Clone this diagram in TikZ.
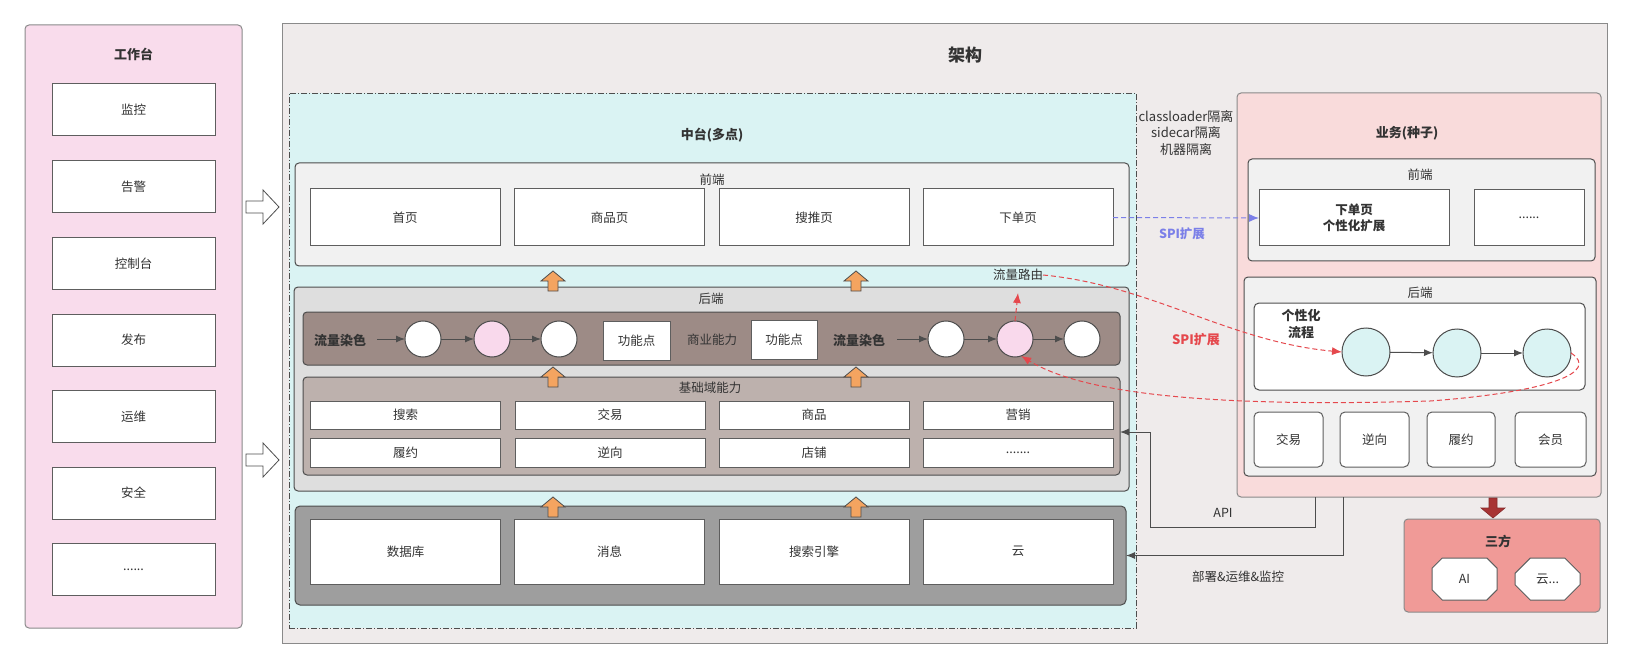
\documentclass[tikz,border=0pt]{standalone}
\usepackage{fontspec}
\setmainfont{Noto Sans CJK SC}
\usetikzlibrary{arrows.meta,shapes.geometric,shapes.misc,calc}
\definecolor{txt}{HTML}{333333}
\definecolor{edgeA}{HTML}{8A8A8A}
\definecolor{edgeB}{HTML}{4D4D4D}
\definecolor{boxedge}{HTML}{5E5E5E}
\definecolor{pinkL}{HTML}{F9DCEC}
\definecolor{archBg}{HTML}{EFEBEB}
\definecolor{cyanBg}{HTML}{DAF3F3}
\definecolor{feBg}{HTML}{F1F1F1}
\definecolor{beBg}{HTML}{DEDEDE}
\definecolor{flowBg}{HTML}{9D8B86}
\definecolor{baseBg}{HTML}{BDB1AD}
\definecolor{infraBg}{HTML}{9E9E9E}
\definecolor{orangeA}{HTML}{F4A460}
\definecolor{bizBg}{HTML}{F9DBDB}
\definecolor{thirdBg}{HTML}{F09A97}
\definecolor{darkRed}{HTML}{A83434}
\definecolor{redA}{HTML}{E5484D}
\definecolor{blueA}{HTML}{7B7FE8}
\definecolor{circPink}{HTML}{F9D9EC}
\newcommand\mysixdots{......}
\newcommand\mysevendots{.......}
\begin{document}
\begin{tikzpicture}[x=1pt,y=-1pt,
  every node/.style={font=\fontsize{12.5}{15}\selectfont, text=txt, inner sep=0pt, outer sep=0pt},
  outerpanel/.style={draw=edgeA, line width=1pt, rounded corners=4pt},
  innerpanel/.style={draw=edgeB, line width=1pt, rounded corners=4pt},
  wbox/.style={draw=boxedge, fill=white, line width=1pt},
  rbox/.style={draw=boxedge, fill=white, line width=1pt, rounded corners=5pt},
  ttl/.style={font=\bfseries\fontsize{13}{16}\selectfont},
  bigttl/.style={font=\bfseries\fontsize{17}{20}\selectfont},
  circw/.style={circle, draw=edgeB, fill=white, line width=1pt, minimum size=36pt},
  circp/.style={circle, draw=edgeB, fill=circPink, line width=1pt, minimum size=36pt},
  circc/.style={circle, draw=edgeB, fill=cyanBg, line width=1pt, minimum size=48pt},
  flowarr/.style={draw=edgeB, line width=1pt, -{Latex[length=9pt,width=7pt]}},
  conn/.style={draw=edgeB, line width=1pt, -{Latex[length=9pt,width=7pt]}},
  reddash/.style={draw=redA, line width=1pt, dash pattern=on 5pt off 3pt, -{Latex[length=10pt,width=8pt]}},
  orangeup/.pic={\draw[fill=orangeA, draw=edgeB, line width=0.8pt] (-5,0) -- (5,0) -- (5,-10) -- (12,-10) -- (0,-20) -- (-12,-10) -- (-5,-10) -- cycle;},
  octa/.style={chamfered rectangle, chamfered rectangle xsep=10pt, chamfered rectangle ysep=10pt, draw=boxedge, fill=white, line width=1pt, minimum width=65pt, minimum height=42pt}
]
\useasboundingbox (0,0) rectangle (1632,668);

% ---------------- left panel
\node[outerpanel, fill=pinkL, minimum width=217pt, minimum height=603pt] (lp) at (133.5,326.5) {};
\node[ttl] (lpt) at (133.5,54) {工作台};
\foreach \nm/\yy/\tx in {w1/110/监控, w2/186.5/告警, w3/263.5/控制台, w4/340/发布, w5/416.5/运维, w6/493/安全, w7/569.5/\mysixdots}{
  \node[wbox, minimum width=163pt, minimum height=52pt] (\nm) at (133.5,\yy) {\tx};
}

% hollow arrows
\foreach \c in {207,460}{
  \draw[fill=white, draw=edgeB, line width=0.8pt] (246,\c-6) -- (263,\c-6) -- (263,\c-17) -- (279,\c) -- (263,\c+17) -- (263,\c+6) -- (246,\c+6) -- cycle;
}

% ---------------- middle architecture panel
\node[draw=edgeA, line width=1pt, fill=archBg, minimum width=1325pt, minimum height=619pt] (mp) at (944.5,333.5) {};
\node[bigttl] (mpt) at (965,55) {架构};

\node[draw=edgeB, line width=0.9pt, fill=cyanBg, dash pattern=on 6pt off 2pt on 1pt off 2pt, minimum width=847pt, minimum height=535pt] (cy) at (712.5,360.5) {};
\node[ttl] (cyt) at (712,135) {中台(多点)};

% front end
\node[innerpanel, fill=feBg, minimum width=834pt, minimum height=103pt] (fe) at (712,214.5) {};
\node (fet) at (712,180) {前端};
\foreach \nm/\xx/\tx in {fe1/405/首页, fe2/609.5/商品页, fe3/814/搜推页, fe4/1018/下单页}{
  \node[wbox, minimum width=190pt, minimum height=57pt] (\nm) at (\xx,217.5) {\tx};
}

% back end
\node[innerpanel, fill=beBg, minimum width=835pt, minimum height=204pt] (be) at (711.5,389) {};
\node (bet) at (711,299) {后端};

\node[innerpanel, fill=flowBg, draw=edgeB, minimum width=817pt, minimum height=53pt] (fl) at (711.5,338.5) {};
\node[ttl] (fl1t) at (340,340) {流量染色};
\node[ttl] (fl2t) at (859,340) {流量染色};
\coordinate (fs1) at (377,339);
\coordinate (fs2) at (897,339);
\node[circw] (c1) at (423,339) {};
\node[circp] (c2) at (492,339) {};
\node[circw] (c3) at (559,339) {};
\node[circw] (c4) at (946,339) {};
\node[circp] (c5) at (1015,339) {};
\node[circw] (c6) at (1082,339) {};
\draw[flowarr] (fs1) -- (c1);
\draw[flowarr] (c1) -- (c2);
\draw[flowarr] (c2) -- (c3);
\draw[flowarr] (fs2) -- (c4);
\draw[flowarr] (c4) -- (c5);
\draw[flowarr] (c5) -- (c6);
\node[wbox, minimum width=67pt, minimum height=39pt] (fp1) at (636.5,340.5) {功能点};
\node (syn) at (712,340) {商业能力};
\node[wbox, minimum width=66pt, minimum height=39pt] (fp2) at (784,340) {功能点};

\node[innerpanel, fill=baseBg, minimum width=817pt, minimum height=98pt] (jc) at (711.5,426) {};
\node (jct) at (710,388) {基础域能力};
\foreach \nm/\xx/\tx in {j1/405.5/搜索, j2/610/交易, j3/814/商品, j4/1018/营销}{
  \node[wbox, minimum width=190pt, minimum height=28pt] (\nm) at (\xx,415) {\tx};
}
\foreach \nm/\xx/\tx in {k1/405.5/履约, k2/610/逆向, k3/814/店铺, k4/1018/\mysevendots}{
  \node[wbox, minimum width=190pt, minimum height=29pt] (\nm) at (\xx,452.5) {\tx};
}

% infrastructure
\node[innerpanel, fill=infraBg, rounded corners=5pt, minimum width=831pt, minimum height=99pt] (inf) at (710.5,555.5) {};
\foreach \nm/\xx/\tx in {d1/405.5/数据库, d2/609.5/消息, d3/814/搜索引擎, d4/1018/云}{
  \node[wbox, minimum width=190pt, minimum height=65pt] (\nm) at (\xx,551.5) {\tx};
}

% orange arrows
\foreach \xx in {553,856}{
  \pic at (\xx,291) {orangeup};
  \pic at (\xx,387) {orangeup};
  \pic at (\xx,517) {orangeup};
}

% isolation text
\node[align=center, font=\fontsize{13}{16.5}\selectfont] (iso) at (1186,133) {classloader隔离\\sidecar隔离\\机器隔离};

% ---------------- business panel
\node[outerpanel, fill=bizBg, minimum width=364pt, minimum height=404pt] (bp) at (1419,295) {};
\node[ttl] (bpt) at (1407,133) {业务(种子)};

\node[innerpanel, fill=feBg, minimum width=347pt, minimum height=102pt] (bfe) at (1421.5,210) {};
\node (bfet) at (1420,175) {前端};
\node[wbox, minimum width=190pt, minimum height=56pt, align=center, font=\bfseries\fontsize{12.5}{16}\selectfont] (bfe1) at (1354,218) {下单页\\个性化扩展};
\node[wbox, minimum width=110pt, minimum height=56pt] (bfe2) at (1529,218) {\mysixdots};

\node[innerpanel, fill=feBg, minimum width=352pt, minimum height=199pt] (bbe) at (1420,376.5) {};
\node (bbet) at (1420,293) {后端};
\node[draw=edgeB, line width=1pt, fill=white, rounded corners=5pt, minimum width=331pt, minimum height=87pt] (bfl) at (1419.5,346.5) {};
\node[align=center, font=\bfseries\fontsize{13}{17}\selectfont] (bflt) at (1301,324) {个性化\\流程};
\node[circc] (b1) at (1366,352) {};
\node[circc] (b2) at (1457,353) {};
\node[circc] (b3) at (1547,353) {};
\draw[flowarr] (b1) -- (b2);
\draw[flowarr] (b2) -- (b3);
\foreach \nm/\xx/\ww/\tx in {bb1/1288.5/69/交易, bb2/1374.5/69/逆向, bb3/1461/68/履约, bb4/1550.5/71/会员}{
  \node[rbox, minimum width=\ww pt, minimum height=55pt] (\nm) at (\xx,439.5) {\tx};
}

% dark red arrow
\draw[fill=darkRed, draw=darkRed!80!black, line width=0.6pt] (1489,498) -- (1497,498) -- (1497,508) -- (1505,508) -- (1493,518) -- (1481,508) -- (1489,508) -- cycle;

% third party
\node[outerpanel, fill=thirdBg, minimum width=196pt, minimum height=93pt] (tp) at (1502,565.5) {};
\node[ttl] (tpt) at (1498,541) {三方};
\node[octa] (ai) at (1464.5,579) {AI};
\node[octa] (yun) at (1547.5,579) {云...};

% ---------------- connectors
\coordinate (apiA) at (1315,497);
\coordinate (apiB) at (1150,527);
\draw[conn] (apiA) |- (apiB) |- ([yshift=-6pt]jc.east);
\node (apit) at (1223,513) {API};
\coordinate (depA) at (1343,497);
\draw[conn] (depA) |- (inf.east);
\node (dept) at (1238,577) {部署\&运维\&监控};

\draw[draw=blueA, line width=1pt, dash pattern=on 5pt off 3pt, -{Latex[length=10pt,width=8pt]}] (fe4.east) -- (bfe1.west);
\node[text=blueA, font=\bfseries\fontsize{12.5}{15}\selectfont] (spib) at (1182,234) {SPI扩展};

\node (lr) at (1018,275) {流量路由};
\coordinate (rtip) at (1018,293);
\draw[reddash] (c5.north) -- (rtip);
\draw[reddash] (lr.east) .. controls (1150,285) and (1230,342) .. (b1.west);
\draw[reddash] (b3.east) .. controls (1600,372) and (1550,392) .. (1430,401) .. controls (1200,408) and (1080,392) .. (c5.-70);
\node[text=redA, font=\bfseries\fontsize{13}{16}\selectfont] (spir) at (1196,340) {SPI扩展};
\end{tikzpicture}
\end{document}
